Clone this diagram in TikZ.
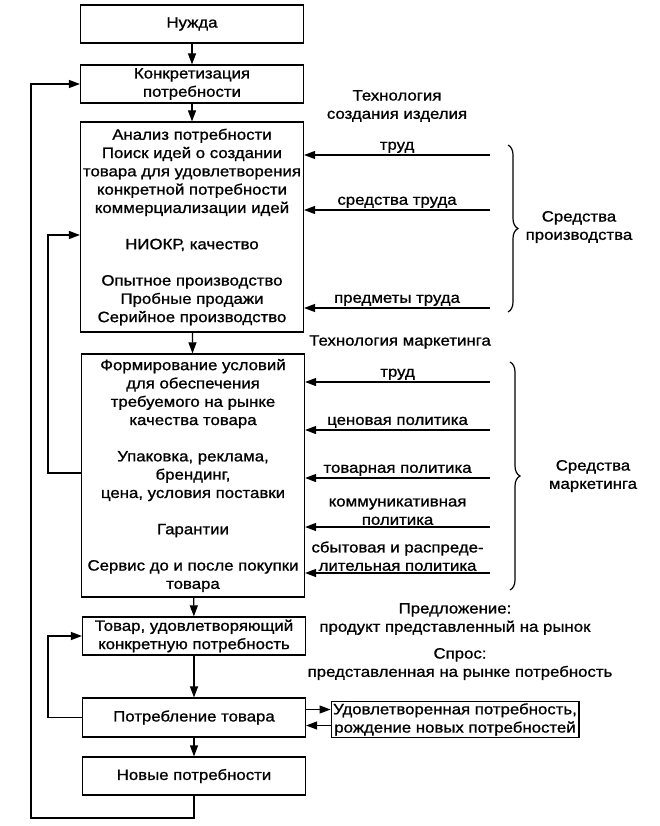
\documentclass[tikz,border=0pt]{standalone}
\usepackage{fontspec}
\setmainfont[FakeStretch=1.12,FakeBold=1]{Liberation Sans}
\usetikzlibrary{arrows.meta,decorations.pathreplacing}

\begin{document}
\begin{tikzpicture}[x=1pt,y=-1pt,line width=1.2pt,>={Triangle[length=11pt,width=8pt]},
  font=\fontsize{15}{18.3}\selectfont]
\tikzstyle{block}=[draw,align=center,minimum width=223pt,inner sep=2pt]
\tikzstyle{lbl}=[align=center,inner sep=1.5pt]
\tikzstyle{brace}=[decorate,decoration={brace,amplitude=10pt}]
\useasboundingbox (0,0) rectangle (660,826);
% main column
\node [block,minimum height=38pt] (need) at (192,24) {Нужда};
\node [block,minimum height=38pt] (spec) at (192,84) {Конкретизация\\потребности};
\node [block,minimum height=210pt] (design) at (192,227) {Анализ потребности\\Поиск идей о создании\\товара для удовлетворения\\конкретной потребности\\коммерциализации идей\\[18pt]НИОКР, качество\\[18pt]Опытное производство\\Пробные продажи\\Серийное производство};
\node [block,minimum height=243pt] (market) at (193,475.5) {Формирование условий\\для обеспечения\\требуемого на рынке\\качества товара\\[18pt]Упаковка, реклама,\\брендинг,\\цена, условия поставки\\[18pt]Гарантии\\[18pt]Сервис до и после покупки\\товара};
\node [block,minimum height=38pt] (goods) at (194,636) {Товар, удовлетворяющий\\конкретную потребность};
\node [block,minimum height=39pt] (use) at (194,717.5) {Потребление товара};
\node [block,minimum height=38pt] (new) at (194,776) {Новые потребности};
\node [draw,align=center,inner sep=2pt] (sat) at (455,719.5) {Удовлетворенная потребность,\\рождение новых потребностей};
\path[->]
    (need) edge (spec)
    (spec) edge (design)
    (design) edge (market)
    (market) edge (goods)
    (goods) edge (use)
    (use) edge (new);
% feedback loops
\coordinate (outer) at (31,818);
\draw[->] (new.south) |- (outer) |- (spec.west);
\coordinate (loopA) at (48,473);
\coordinate (loopAtop) at (48,235);
\draw[->] (market.west |- loopA) -- (loopA) -- (loopAtop) -- (design.west |- loopAtop);
\draw[->] (use.west) -- ++(-34,0) |- (goods.west);
\draw[->] ([yshift=8pt]use.east) -- ([yshift=8pt]use.east -| sat.west);
\draw[->] ([yshift=-8pt]use.east -| sat.west) -- ([yshift=-8pt]use.east);
% production inputs
\node [lbl] (techprod) at (397,106) {Технология\\создания изделия};
\coordinate (p1) at (490,155);
\coordinate (p2) at (490,210);
\coordinate (p3) at (490,308);
\draw[->] (p1) -- node[lbl,above] (labour) {труд} (design.east |- p1);
\draw[->] (p2) -- node[lbl,above] (tools) {средства труда} (design.east |- p2);
\draw[->] (p3) -- node[lbl,above] (objects) {предметы труда} (design.east |- p3);
\draw[brace] (508,145) -- (508,312);
\node [lbl] (prodmeans) at (579,227) {Средства\\производства};
% marketing inputs
\node [lbl] (techmark) at (400,342) {Технология маркетинга};
\coordinate (m1) at (490,382);
\coordinate (m2) at (490,430);
\coordinate (m3) at (490,478);
\coordinate (m4) at (490,527);
\coordinate (m5) at (490,573);
\draw[->] (m1) -- node[lbl,above] (mlabour) {труд} (market.east |- m1);
\draw[->] (m2) -- node[lbl,above] (price) {ценовая политика} (market.east |- m2);
\draw[->] (m3) -- node[lbl,above] (product) {товарная политика} (market.east |- m3);
\draw[->] (m4) -- node[lbl,above] (comm) {коммуникативная\\политика} (market.east |- m4);
\draw[->] (m5) -- node[lbl,above] (distr) {сбытовая и распреде-\\лительная политика} (market.east |- m5);
\draw[brace] (510,362) -- (510,590);
\node [lbl] (markmeans) at (593,476) {Средства\\маркетинга};
% supply and demand
\node [lbl] (supply) at (455,619) {Предложение:\\продукт представленный на рынок};
\node [lbl] (demand) at (460,664) {Спрос:\\представленная на рынке потребность};
\end{tikzpicture}
\end{document}
